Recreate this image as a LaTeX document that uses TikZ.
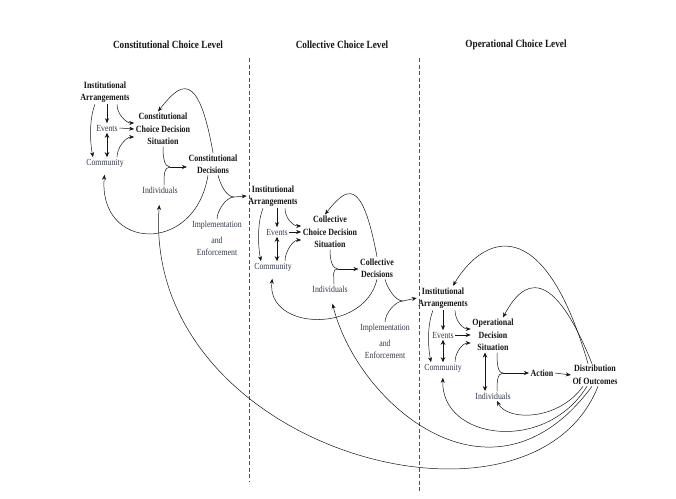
\documentclass[tikz,border=0pt]{standalone}
\usepackage{fontspec}
\setmainfont[FakeStretch=0.84]{Liberation Serif}
\usepackage{xcolor}
\usepackage{tikz}
\usetikzlibrary{calc,arrows.meta}
\definecolor{ink}{HTML}{151515}
\definecolor{soft}{HTML}{33384A}
\tikzset{
  head/.style={text=ink, font=\bfseries\fontsize{11}{13}\selectfont},
  key/.style={text=ink, font=\bfseries\fontsize{9.5}{12.5}\selectfont, align=center, inner sep=1.5pt},
  lab/.style={text=soft, font=\fontsize{9.3}{12}\selectfont, align=center, inner sep=1.5pt},
  link/.style={draw=ink, line width=0.5pt},
  flow/.style={link, -{Stealth[length=5pt,width=4pt]}},
  twoway/.style={link, line width=0.7pt, {Stealth[length=5pt,width=4.5pt]}-{Stealth[length=5pt,width=4.5pt]}},
  divider/.style={draw=ink!75, line width=0.5pt, dash pattern=on 4pt off 2.5pt},
}

\begin{document}
\begin{tikzpicture}[x=1pt,y=-1pt]
  \useasboundingbox (0,0) rectangle (676,498);

  % levels
  \node[head] (conHead) at (168,45) {Constitutional Choice Level};
  \node[head] (colHead) at (342,45) {Collective Choice Level};
  \node[head] (opHead) at (516,45) {Operational Choice Level};
  \draw[divider] (249,58) -- (249,481);
  \draw[divider] (419,58) -- (419,492);

  % constitutional
  \node[key] (conIA) at (105,92) {Institutional\\Arrangements};
  \node[lab] (conEv) at (107,128) {Events};
  \node[lab] (conCom) at (105,163) {Community};
  \node[key] (conSit) at (163,129) {Constitutional\\Choice Decision\\Situation};
  \node[lab] (conInd) at (160,190) {Individuals};
  \node[key] (conDec) at (213,164) {Constitutional\\Decisions};
  \node[lab] (conImp) at (217,238) {Implementation\\[4pt]and\\Enforcement};
  \coordinate (conJ) at (170,167);
  \coordinate (conK) at (234,197);

  % collective
  \node[key] (colIA) at (273,196) {Institutional\\Arrangements};
  \node[lab] (colEv) at (277,232) {Events};
  \node[lab] (colCom) at (273,267) {Community};
  \node[key] (colSit) at (330,232) {Collective\\Choice Decision\\Situation};
  \node[lab] (colInd) at (330,289) {Individuals};
  \node[key] (colDec) at (377,268) {Collective\\Decisions};
  \node[lab] (colImp) at (385,341) {Implementation\\[4pt]and\\Enforcement};
  \coordinate (colJ) at (338,269);
  \coordinate (colK) at (403,301);

  % operational
  \node[key] (opIA) at (443,298) {Institutional\\Arrangements};
  \node[lab] (opEv) at (443,335) {Events};
  \node[lab] (opCom) at (443,368) {Community};
  \node[key] (opSit) at (493,335) {Operational\\Decision\\Situation};
  \node[lab] (opInd) at (493,396) {Individuals};
  \node[key] (opAct) at (542,373) {Action};
  \node[key] (opDist) at (595,375) {Distribution\\Of Outcomes};
  \coordinate (opJ) at (503,373);

  % same small arrows in every level
  \foreach \p in {con,col,op}{
    \draw[flow] (\p Ev.north |- \p IA.south) -- (\p Ev.north);
    \draw[twoway] (\p Ev.south) -- (\p Com.north -| \p Ev.south);
    \draw[flow] (\p Ev.east) -- (\p Sit.west);
    \draw[flow] ([xshift=-10pt]\p IA.south) .. controls +(-6,15) and +(-3,-15) .. ([xshift=-12pt]\p Com.north);
    \draw[flow] ([xshift=12pt]\p IA.south) .. controls +(0,10) and +(-8,0) .. ([yshift=6pt]\p Sit.west);
    \draw[flow] ([xshift=12pt]\p Com.north) .. controls +(0,-10) and +(-8,0) .. ([yshift=-8pt]\p Sit.west);
  }

  % decisions
  \draw[link] (conSit.south) .. controls +(0,10) and +(-6,0) .. (conJ);
  \draw[link] ([xshift=4pt]conInd.north) .. controls +(0,-10) and +(-6,0) .. (conJ);
  \draw[flow] (conJ) -- (conJ -| conDec.west);
  \draw[link] (colSit.south) .. controls +(0,10) and +(-6,0) .. (colJ);
  \draw[link] ([xshift=4pt]colInd.north) .. controls +(0,-10) and +(-6,0) .. (colJ);
  \draw[flow] (colJ) -- (colJ -| colDec.west);
  \draw[link] ([xshift=4pt]opSit.south) .. controls +(0,8) and +(-6,0) .. (opJ);
  \draw[link] ([xshift=4pt]opInd.north) .. controls +(0,-8) and +(-6,0) .. (opJ);
  \draw[flow] (opJ) -- (opAct.west);
  \draw[flow] (opAct.east) -- (opDist.west);
  \draw[twoway] ([xshift=-8pt]opSit.south) -- ([xshift=-8pt]opInd.north);

  % feedback inside a level
  \draw[flow] (conDec.north) .. controls +(-15,-85) and +(22,-28) .. ([xshift=-5pt]conSit.north);
  \draw[flow] (colDec.north) .. controls +(-15,-80) and +(22,-28) .. ([xshift=-5pt]colSit.north);
  \draw[flow, shorten >=6pt] ([xshift=-5pt]conDec.south) .. controls +(-13,80) and +(-7,82) .. (conCom.south);
  \draw[flow, shorten >=6pt] (colDec.south) .. controls +(-13,55) and +(-7,58) .. (colCom.south);

  % down to the next level
  \draw[link] ([xshift=5pt]conDec.south) .. controls +(2,8) and +(-8,0) .. (conK);
  \draw[link] (conImp.north) .. controls +(0,-8) and +(-8,0) .. (conK);
  \draw[flow] (conK) -- (colIA.west);
  \draw[link] ([xshift=8pt]colDec.south) .. controls +(2,8) and +(-8,0) .. (colK);
  \draw[link] (colImp.north) .. controls +(0,-8) and +(-8,0) .. (colK);
  \draw[flow] (colK) -- (opIA.west);

  % outcomes back to all levels
  \draw[flow] ([xshift=-7pt]opDist.north) .. controls +(-45,-155) and +(30,-50) .. ([xshift=10pt]opIA.north);
  \draw[flow] ([xshift=-3pt]opDist.north) .. controls +(-40,-100) and +(20,-38) .. ([xshift=10pt]opSit.north);
  \draw[flow] ([xshift=-12pt]opDist.south) .. controls +(-25,35) and +(10,20) .. ([xshift=4pt]opInd.south);
  \draw[flow, shorten >=4pt] ([xshift=-8pt]opDist.south) .. controls +(-42,68) and +(-2,66) .. (opCom.south);
  \draw[flow, shorten >=10pt] ([xshift=-3pt]opDist.south) .. controls +(-99,134) and +(28,111) .. (colInd.south);
  \draw[flow, shorten >=10pt] ([xshift=3pt]opDist.south) .. controls +(-67,169) and +(-18,255) .. (conInd.south);
\end{tikzpicture}
\end{document}
